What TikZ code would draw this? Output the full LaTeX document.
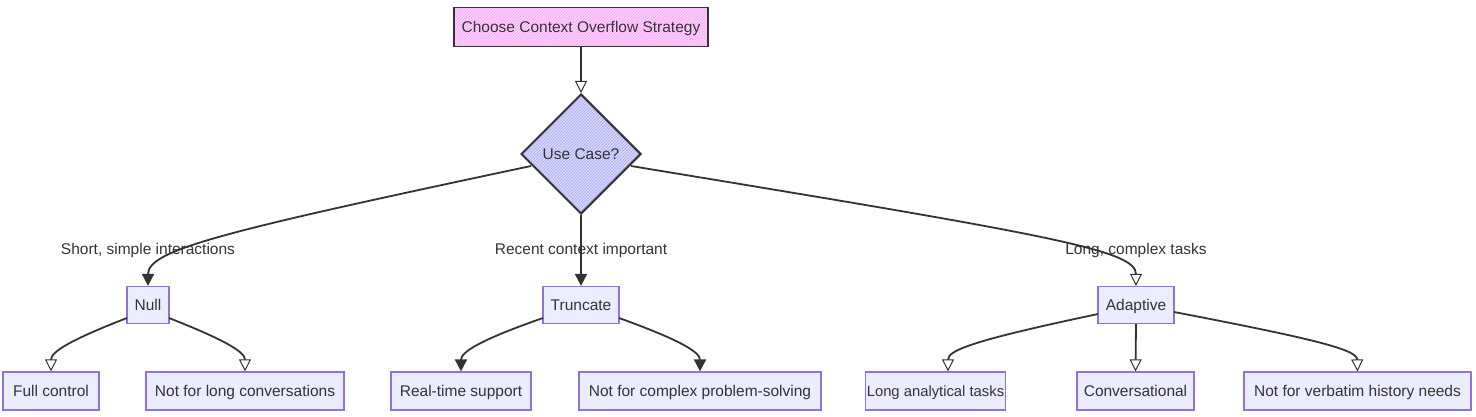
\documentclass[tikz,border=0pt]{standalone}
\usepackage{fontspec}
\setmainfont{Liberation Sans}
\usetikzlibrary{arrows.meta,patterns,shapes.geometric}
\definecolor{nfill}{HTML}{ECECFF}
\definecolor{nborder}{HTML}{9370DB}
\definecolor{pinkf}{HTML}{FF99FF}
\definecolor{pinkl}{HTML}{FFD6FF}
\definecolor{bluef}{HTML}{A8A8F8}
\definecolor{bluel}{HTML}{D8D8FF}
\definecolor{edge}{HTML}{333333}
\definecolor{txt}{HTML}{333333}
\begin{document}
\begin{tikzpicture}[x=1pt,y=-1pt,
  every node/.style={font=\fontsize{15.5}{18}\selectfont, text=txt},
  leaf/.style={draw=nborder, line width=1.2pt, fill=nfill, minimum height=38pt, inner xsep=4pt, inner ysep=0pt, text height=12pt, text depth=1.5pt, anchor=center},
  mid/.style={leaf, minimum height=37pt},
  topbox/.style={draw=edge, line width=1.6pt, preaction={fill=pinkl}, pattern=north east lines, pattern color=pinkf, minimum width=254pt, minimum height=39pt, text height=12pt, text depth=1.5pt},
  dec/.style={diamond, aspect=1, draw=edge, line width=2pt, preaction={fill=bluel}, pattern=north east lines, pattern color=bluef, minimum width=120pt, minimum height=120pt, inner sep=0pt},
  conn/.style={draw=edge, line width=1.8pt},
  tipo/.style={conn, -{Triangle[open, length=12pt, width=12pt, line width=1pt]}},
  tipf/.style={conn, -{Triangle[length=12pt, width=12pt]}},
  lbl/.style={text=txt}
]
\useasboundingbox (0,0) rectangle (1476,417);
\fill[white] (0,0) rectangle (1476,417);

\node[topbox] (top) at (581,27) {Choose Context Overflow Strategy};
\node[dec] (uc) at (581,154) {Use Case?};

\node[mid, minimum width=42pt] (null) at (148,305) {Null};
\node[mid, minimum width=76pt] (trunc) at (581,305) {Truncate};
\node[mid, minimum width=76pt] (adapt) at (1136,305) {Adaptive};

\node[leaf, minimum width=96pt] (full) at (51,391) {Full control};
\node[leaf, minimum width=198pt] (nlong) at (245,391) {Not for long conversations};
\node[leaf, minimum width=140pt] (rts) at (461,391) {Real-time support};
\node[leaf, minimum width=242pt] (ncomp) at (700,391) {Not for complex problem-solving};
\node[leaf, minimum width=135pt, inner xsep=1pt, font=\fontsize{14.8}{17}\selectfont] (lat) at (935.5,391) {Long analytical tasks};
\node[leaf, minimum width=117pt] (conv) at (1135.5,391) {Conversational};
\node[leaf, minimum width=227pt] (nverb) at (1357.5,391) {Not for verbatim history needs};

\coordinate (ucl) at (531,166);
\coordinate (ucr) at (631,166);

\draw[tipo] (top.south) -- (uc.north);
\draw[tipf] (ucl) .. controls (220,232) and (148,250) .. (null.north);
\draw[tipf] (uc.south) -- (trunc.north);
\draw[tipo] (ucr) .. controls (1050,235) and (1136,250) .. (adapt.north);

\node[lbl] (l1) at (148,250) {Short, simple interactions};
\node[lbl] (l2) at (581,250) {Recent context important};
\node[lbl] (l3) at (1136,250) {Long, complex tasks};

\coordinate (nullA) at (127,318);
\coordinate (nullB) at (169,318);
\draw[tipo] (nullA) .. controls (70,340) and (51,352) .. (full.north);
\draw[tipo] (nullB) .. controls (225,340) and (245,352) .. (nlong.north);

\coordinate (trA) at (543,318);
\coordinate (trB) at (619,318);
\draw[tipf] (trA) .. controls (480,340) and (461,352) .. (rts.north);
\draw[tipf] (trB) .. controls (680,340) and (700,352) .. (ncomp.north);

\coordinate (adA) at (1098,314);
\coordinate (adB) at (1174,312);
\draw[tipo] (adA) .. controls (975,340) and (948,350) .. ([xshift=12.5pt]lat.north);
\draw[tipo] (adapt.south) -- (conv.north);
\draw[tipo] (adB) .. controls (1320,340) and (1357,350) .. (nverb.north);
\end{tikzpicture}
\end{document}
